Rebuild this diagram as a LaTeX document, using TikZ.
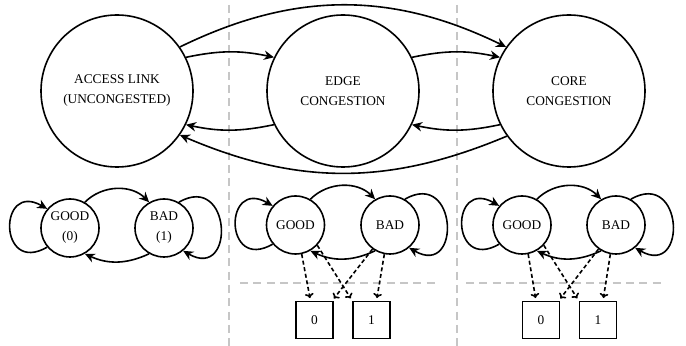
\documentclass[tikz,border=0pt]{standalone}
\usepackage{fontspec}
\setmainfont{Liberation Serif}
\usetikzlibrary{arrows.meta}
\tikzset{
	bigstate/.style={circle, draw, line width=1.2pt, inner sep=0pt, minimum size=114pt, align=center, font=\fontsize{10}{15}\selectfont},
	chainstate/.style={circle, draw, line width=1.2pt, inner sep=0pt, minimum size=43.5pt, align=center, font=\fontsize{10}{15}\selectfont},
	outbox/.style={rectangle, draw, line width=1.2pt, inner sep=0pt, minimum size=27.75pt, font=\fontsize{10}{12}\selectfont},
	trans/.style={line width=1.2pt, -{Stealth[length=7.5pt,width=7pt]}},
	emit/.style={line width=1.2pt, dash pattern=on 3pt off 2pt, shorten >=2pt, -{To[length=3.5pt,width=6.5pt]}},
	divider/.style={line width=1pt, color=gray!45, dash pattern=on 6pt off 4pt},
}

\begin{document}
\begin{tikzpicture}[x=0.75pt, y=0.75pt]
			%%%%% START %%%%%
			\useasboundingbox (0,0) rectangle (686,346);
			
			\draw[divider] (229,341) -- (229,0);
			\draw[divider] (457,341) -- (457,0);
			\draw[divider] (240,63) -- (437,63);
			\draw[divider] (466,63) -- (663,63);
			
			\node[bigstate] (access) at (117,255) {ACCESS LINK\\(UNCONGESTED)};
			\node[bigstate] (edgecong) at (343,255) {EDGE\\CONGESTION};
			\node[bigstate] (corecong) at (569,255) {CORE\\CONGESTION};
			
			\draw[trans] (access.26) to[bend left=12] (edgecong.154);
			\draw[trans] (edgecong.206) to[bend left=12] (access.-26);
			\draw[trans] (edgecong.26) to[bend left=12] (corecong.154);
			\draw[trans] (corecong.206) to[bend left=12] (edgecong.-26);
			\draw[trans] (access.35) to[bend left=26] (corecong.145);
			\draw[trans] (corecong.216) to[bend left=23] (access.-35);
			
			\node[chainstate] (good1) at (70,118) {GOOD\\(0)};
			\node[chainstate] (bad1) at (164,118) {BAD\\(1)};
			\draw[trans] (good1.60) to[bend left=45] (bad1.120);
			\draw[trans] (bad1.240) to[bend left=25] (good1.300);
			\draw[trans] (good1.220) to[out=210, in=150, looseness=3.8] (good1.140);
			\draw[trans] (bad1.60) to[out=30, in=-30, looseness=3.2] (bad1.-50);
			
			\node[chainstate] (good2) at (295.5,121) {GOOD};
			\node[chainstate] (bad2) at (390,121) {BAD};
			\draw[trans] (good2.60) to[bend left=45] (bad2.120);
			\draw[trans] (bad2.240) to[bend left=25] (good2.300);
			\draw[trans] (good2.220) to[out=210, in=150, looseness=3.8] (good2.140);
			\draw[trans] (bad2.60) to[out=30, in=-30, looseness=3.2] (bad2.-50);
			
			\node[outbox] (zero2) at (314.5,26) {0};
			\node[outbox] (one2) at (371.5,26) {1};
			\draw[emit] (good2.-78) -- ([xshift=-3pt]zero2.north);
			\draw[emit] (good2.-43) -- (one2.north west);
			\draw[emit] (bad2.-126) -- ([xshift=-1.2pt]zero2.north east);
			\draw[emit] (bad2.-101) -- ([xshift=3.75pt]one2.north);
			
			\node[chainstate] (good3) at (522,121) {GOOD};
			\node[chainstate] (bad3) at (616,121) {BAD};
			\draw[trans] (good3.60) to[bend left=45] (bad3.120);
			\draw[trans] (bad3.240) to[bend left=25] (good3.300);
			\draw[trans] (good3.220) to[out=210, in=150, looseness=3.8] (good3.140);
			\draw[trans] (bad3.60) to[out=30, in=-30, looseness=3.2] (bad3.-50);
			
			\node[outbox] (zero3) at (541,26) {0};
			\node[outbox] (one3) at (598,26) {1};
			\draw[emit] (good3.-78) -- ([xshift=-3.75pt]zero3.north);
			\draw[emit] (good3.-43) -- (one3.north west);
			\draw[emit] (bad3.-126) -- ([xshift=-1.2pt]zero3.north east);
			\draw[emit] (bad3.-101) -- ([xshift=3.75pt]one3.north);
			
			%%%%% END %%%%%
\end{tikzpicture}
\end{document}
